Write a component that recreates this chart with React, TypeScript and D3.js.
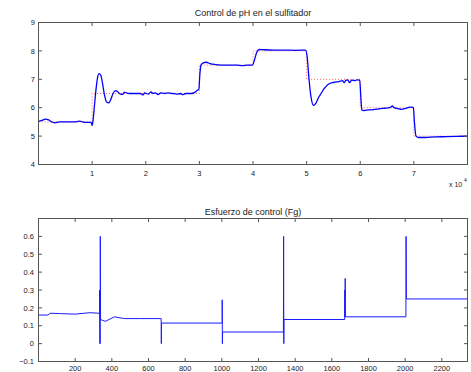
import React from 'react';
import * as d3 from 'd3';

// pH trace, sample time vs measured pH
const phTime = [
  0, 600, 1300, 1900, 2500, 3000, 4000, 5500, 7000, 7700, 8200, 9000, 9800, 10000, 10100, 10400, 10700, 11000,
  11300, 11600, 11900, 12300, 12700, 13100, 13500, 13900, 14400, 14800, 15300, 15700, 16000, 16400, 17000, 18000,
  18500, 19000, 19500, 19800, 20500, 21000, 21300, 21800, 22300, 22800, 23500, 24200, 25000, 25800, 26500, 26800,
  27500, 28500, 29200, 29700, 29900, 30100, 30300, 30700, 31300, 32000, 33000, 35000, 37000, 38000, 39000, 39900,
  40300, 40700, 41200, 42000, 44000, 46000, 48000, 49800, 50100, 50400, 50800, 51300, 51700, 52200, 52700, 53300,
  54000, 54600, 55300, 56000, 56700, 57000, 57300, 57700, 58000, 58400, 59000, 59400, 59900, 60100, 60300, 60700,
  61500, 62500, 63500, 64500, 65500, 66000, 66300, 67000, 67700, 68500, 69300, 69900, 70100, 70400, 70900, 72000,
  74000, 76000, 78000, 80000,
];
const phValue = [
  5.52, 5.55, 5.6, 5.57, 5.5, 5.47, 5.5, 5.5, 5.5, 5.53, 5.5, 5.48, 5.48, 5.38, 5.45, 6.0, 6.6, 7.05,
  7.2, 7.15, 6.9, 6.45, 6.2, 6.17, 6.3, 6.5, 6.6, 6.55, 6.48, 6.47, 6.55, 6.52, 6.5, 6.5,
  6.5, 6.5, 6.45, 6.52, 6.48, 6.56, 6.5, 6.52, 6.46, 6.52, 6.5, 6.52, 6.5, 6.48, 6.5, 6.46,
  6.5, 6.5, 6.55, 6.62, 6.65, 7.2, 7.5, 7.58, 7.6, 7.55, 7.52, 7.5, 7.5, 7.48, 7.5, 7.5,
  7.7, 7.95, 8.05, 8.04, 8.03, 8.03, 8.02, 8.03, 7.8, 7.1, 6.4, 6.08, 6.15, 6.35, 6.5, 6.68,
  6.82, 6.87, 6.9, 6.92, 6.95, 6.88, 6.96, 6.98, 6.88, 6.97, 6.95, 6.98, 6.97, 6.4, 5.92, 5.9,
  5.92, 5.93, 5.96, 5.98, 6.0, 6.06, 6.0, 5.97, 5.94, 5.98, 6.02, 6.01, 5.5, 5.0, 4.95, 4.95,
  4.97, 4.98, 4.99, 5.0,
];

// setpoint steps
const spTime = [0, 10000, 30000, 40000, 50000, 60000, 70000, 80000];
const spValue = [5.5, 6.5, 7.5, 8, 7, 6, 5, 5];

// control effort Fg per sample
const uSample = [
  1, 50, 65, 120, 200, 280, 330, 333, 333, 334, 337, 337, 338, 350, 365, 385, 415, 440, 470, 550,
  669, 670, 671, 1000, 1002, 1002, 1003, 1004, 1336, 1337, 1338, 1339, 1670, 1671, 1672, 1673, 1674,
  2004, 2005, 2006, 2007, 2340,
];
const uValue = [
  0.16, 0.16, 0.17, 0.168, 0.165, 0.173, 0.17, 0.17, 0.3, 0, 0, 0.6, 0.135, 0.13, 0.125, 0.135, 0.15, 0.145, 0.14, 0.14,
  0.14, 0, 0.115, 0.115, 0.115, 0.245, 0, 0.065, 0.065, 0.6, 0, 0.135, 0.135, 0.3, 0.15, 0.365, 0.15,
  0.15, 0.6, 0.36, 0.25, 0.25,
];

const topXTicks = [1, 2, 3, 4, 5, 6, 7];
const topYTicks = [4, 5, 6, 7, 8, 9];
const botXTicks = [200, 400, 600, 800, 1000, 1200, 1400, 1600, 1800, 2000, 2200];
const botYTicks = [-0.1, 0, 0.1, 0.2, 0.3, 0.4, 0.5, 0.6];

const W = 471;
const H = 372;
const left = 38.5;
const right = 467.5;
const font = 'Liberation Sans, Arial, sans-serif';
const axisColor = '#555';
const textColor = '#222';
const tick = 3.5;

const App: React.FC = () => {
  // top panel
  const x1 = d3.scaleLinear().domain([0, 80000]).range([left, right]);
  const y1 = d3.scaleLinear().domain([4, 9]).range([164.5, 22.5]);
  // bottom panel
  const x2 = d3.scaleLinear().domain([0, 2340]).range([left, right]);
  const y2 = d3.scaleLinear().domain([-0.1, 0.7]).range([361.5, 218.5]);

  const phLine = d3.line<number>()
    .x((_, i) => x1(phTime[i]))
    .y(d => y1(d))
    .curve(d3.curveMonotoneX);
  const spLine = d3.line<number>()
    .x((_, i) => x1(spTime[i]))
    .y(d => y1(d))
    .curve(d3.curveStepAfter);
  const uLine = d3.line<number>()
    .x((_, i) => x2(uSample[i]))
    .y(d => y2(d));

  const box = (yTop: number, yBot: number) => (
    <rect x={left} y={yTop} width={right - left} height={yBot - yTop}
      fill="none" stroke={axisColor} strokeWidth={1} />
  );

  return (
    <svg width={W} height={H} style={{ position: 'absolute', left: 0, top: 0, background: '#fff' }}
      fontFamily={font}>
      {/* top panel */}
      <text x={(left + right) / 2} y={16} textAnchor="middle" fontSize={9} fill={textColor}>
        Control de pH en el sulfitador
      </text>
      <path d={spLine(spValue) || ''} fill="none" stroke="#ff3333" strokeWidth={1}
        strokeDasharray="1,2" opacity={0.8} />
      <path d={phLine(phValue) || ''} fill="none" stroke="#0000ff" strokeWidth={1.3} />
      {box(y1(9), y1(4))}
      {topXTicks.map(t => (
        <g key={'tx' + t}>
          <line x1={x1(t * 10000)} x2={x1(t * 10000)} y1={y1(4)} y2={y1(4) - tick} stroke={axisColor} />
          <line x1={x1(t * 10000)} x2={x1(t * 10000)} y1={y1(9)} y2={y1(9) + tick} stroke={axisColor} />
          <text x={x1(t * 10000)} y={175.5} textAnchor="middle" fontSize={7.5} fill={textColor}>{t}</text>
        </g>
      ))}
      {topYTicks.map(t => (
        <g key={'ty' + t}>
          <line x1={left} x2={left + tick} y1={y1(t)} y2={y1(t)} stroke={axisColor} />
          <line x1={right} x2={right - tick} y1={y1(t)} y2={y1(t)} stroke={axisColor} />
          <text x={35} y={y1(t) + 2.7} textAnchor="end" fontSize={7.5} fill={textColor}>{t}</text>
        </g>
      ))}
      <text x={449} y={187} fontSize={7} fill={textColor}>x 10</text>
      <text x={464} y={182} fontSize={5} fill={textColor}>4</text>

      {/* bottom panel */}
      <text x={(left + right) / 2} y={215} textAnchor="middle" fontSize={9} fill={textColor}>
        Esfuerzo de control (Fg)
      </text>
      <path d={uLine(uValue) || ''} fill="none" stroke="#1a1aff" strokeWidth={1} />
      {box(y2(0.7), y2(-0.1))}
      {botXTicks.map(t => (
        <g key={'bx' + t}>
          <line x1={x2(t)} x2={x2(t)} y1={y2(-0.1)} y2={y2(-0.1) - tick} stroke={axisColor} />
          <line x1={x2(t)} x2={x2(t)} y1={y2(0.7)} y2={y2(0.7) + tick} stroke={axisColor} />
          <text x={x2(t)} y={370.5} textAnchor="middle" fontSize={7.5} fill={textColor}>{t}</text>
        </g>
      ))}
      {botYTicks.map(t => (
        <g key={'by' + t}>
          <line x1={left} x2={left + tick} y1={y2(t)} y2={y2(t)} stroke={axisColor} />
          <line x1={right} x2={right - tick} y1={y2(t)} y2={y2(t)} stroke={axisColor} />
          <text x={34} y={y2(t) + 2.7} textAnchor="end" fontSize={7.5} fill={textColor}>
            {t < 0 ? '\u22120.1' : d3.format('.1f')(t).replace('0.0', '0')}
          </text>
        </g>
      ))}
    </svg>
  );
};

export default App;
